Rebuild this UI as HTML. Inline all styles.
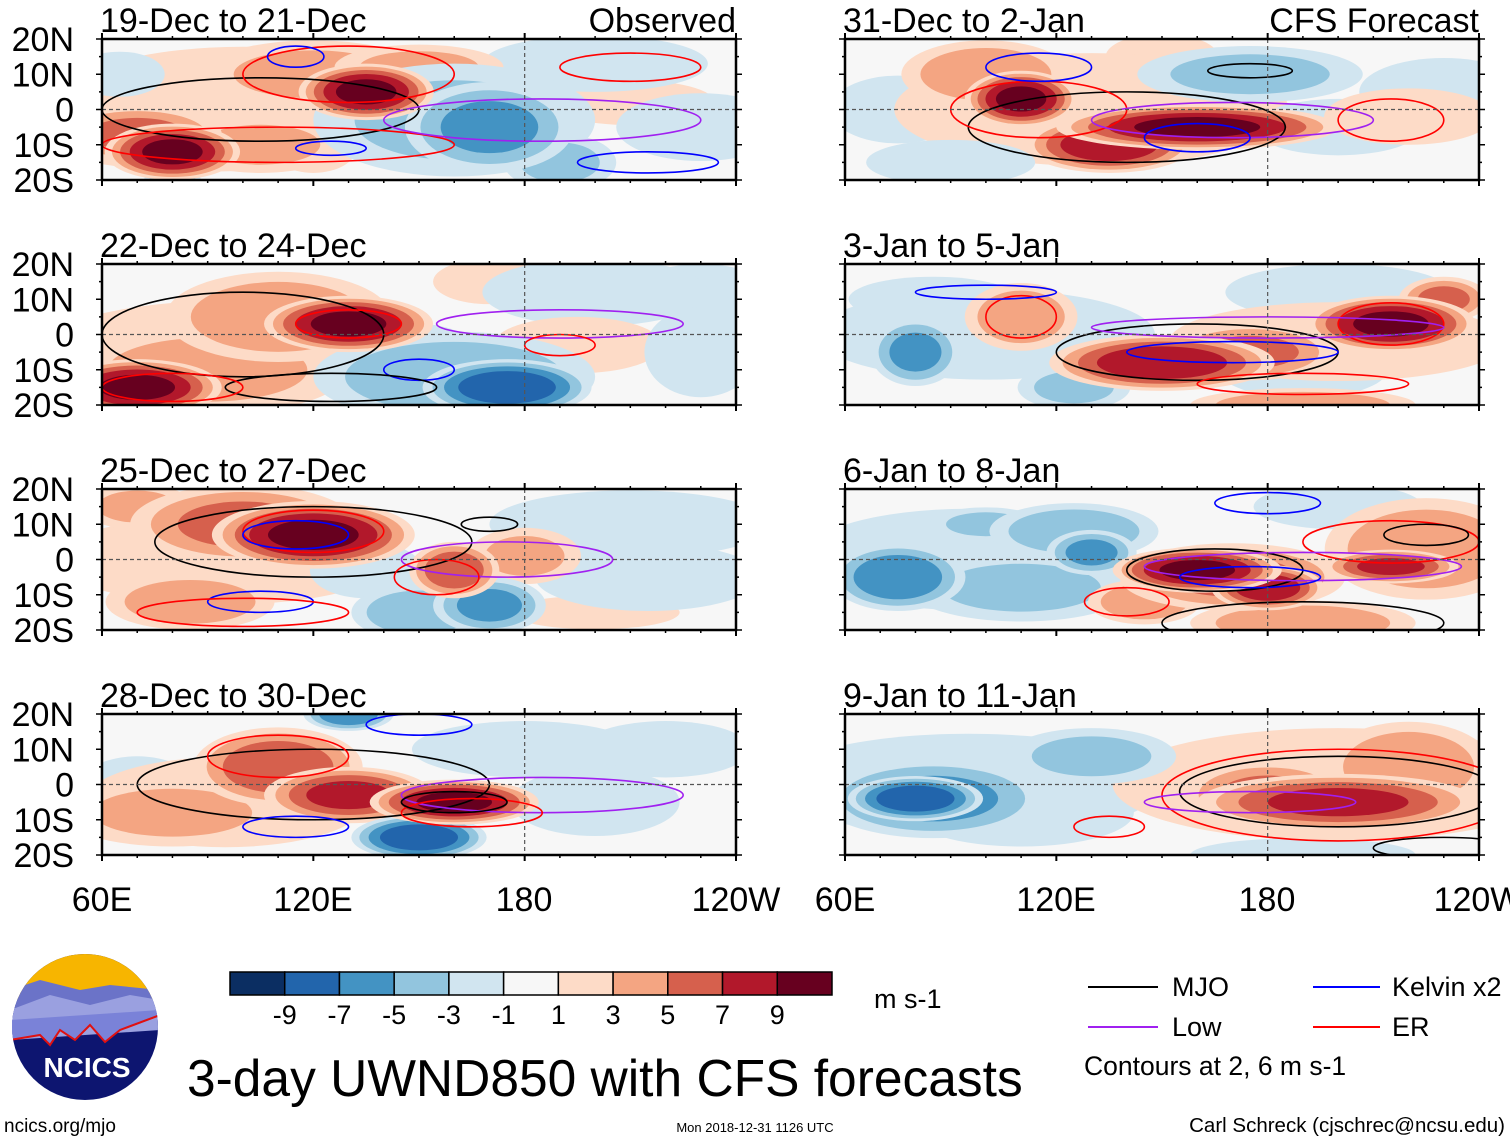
<!DOCTYPE html>
<html><head><meta charset="utf-8">
<style>
html,body{margin:0;padding:0;background:#fff;}
svg{display:block;font-family:"Liberation Sans",sans-serif;}
</style></head>
<body>
<svg id="chart" width="1510" height="1142" viewBox="0 0 1510 1142" xmlns="http://www.w3.org/2000/svg">
<g id="panels"></g>

<g font-size="34" text-anchor="middle">
<text x="102" y="911">60E</text>
<text x="313" y="911">120E</text>
<text x="524" y="911">180</text>
<text x="736" y="911">120W</text>
<text x="845" y="911">60E</text>
<text x="1056" y="911">120E</text>
<text x="1267" y="911">180</text>
<text x="1478" y="911">120W</text>
</g>

<g id="colorbar"></g>
<text x="874" y="1008" font-size="27">m s-1</text>

<g font-size="27">
<line x1="1088" y1="987" x2="1158" y2="987" stroke="#000" stroke-width="2"/>
<text x="1172" y="996">MJO</text>
<line x1="1088" y1="1027" x2="1158" y2="1027" stroke="#a020f0" stroke-width="2"/>
<text x="1172" y="1036">Low</text>
<line x1="1313" y1="987" x2="1380" y2="987" stroke="#0000ff" stroke-width="2"/>
<text x="1392" y="996">Kelvin x2</text>
<line x1="1313" y1="1027" x2="1380" y2="1027" stroke="#ff0000" stroke-width="2"/>
<text x="1392" y="1036">ER</text>
<text x="1084" y="1075" font-size="26.5">Contours at 2, 6 m s-1</text>
</g>

<g>
<clipPath id="logoclip"><circle cx="85" cy="1027" r="73"/></clipPath>
<g clip-path="url(#logoclip)">
<rect x="10" y="950" width="150" height="160" fill="#0d1570"/>
<rect x="10" y="950" width="150" height="50" fill="#f7b500"/>
<path d="M10 990 L40 980 L80 990 L110 985 L160 990 L160 1020 L10 1030Z" fill="#6b73c8"/>
<path d="M10 1010 L50 995 L90 1005 L130 995 L160 1000 L160 1030 L10 1040Z" fill="#9aa0e0"/>
<path d="M10 1040 L40 1035 L50 1045 L60 1030 L75 1040 L90 1025 L105 1042 L120 1030 L160 1015 L160 1010 L10 1020Z" fill="#7a82d8" stroke="none"/>
<path d="M10 1040 L40 1035 L50 1045 L60 1030 L75 1040 L90 1025 L105 1042 L120 1030 L160 1015" fill="none" stroke="#e01010" stroke-width="2"/>
</g>
<text x="87" y="1077" font-size="28" font-weight="bold" fill="#fff" text-anchor="middle">NCICS</text>
</g>

<text x="187" y="1096" font-size="51.5">3-day UWND850 with CFS forecasts</text>
<text x="4" y="1132" font-size="19">ncics.org/mjo</text>
<text x="755" y="1132" font-size="13" text-anchor="middle">Mon 2018-12-31 1126 UTC</text>
<text x="1505" y="1132" font-size="20.5" text-anchor="end">Carl Schreck (cjschrec@ncsu.edu)</text>
</svg>

<script>
// ---- data ----
const panelTitles = ["19-Dec to 21-Dec","22-Dec to 24-Dec","25-Dec to 27-Dec","28-Dec to 30-Dec","31-Dec to 2-Jan","3-Jan to 5-Jan","6-Jan to 8-Jan","9-Jan to 11-Jan"];
const levelBounds = [-9,-7,-5,-3,-1,1,3,5,7,9];
const levelColors = ["#0b2e62","#2265ac","#4393c3","#92c5de","#d1e5f0","#f7f7f7","#fddbc7","#f4a582","#d6604d","#b2182b","#67001f"];
const latTicks = ["20N","10N","0","10S","20S"];
// anomaly blobs: [lon, lat, peak (m/s), lonRadius, latRadius]
const blobsP1 = [[100,5,2,30,8],[90,-8,3,30,6],[70,-7,6,15,5],[80,-12,10,12,5],[105,-10,4,15,5],[120,-10,3,8,5],[120,10,4,20,6],[135,5,10,12,5],[150,12,4,15,4],[160,-3,-4,25,10],[170,-5,-6,15,8],[190,-15,-4,10,5],[200,13,-3,20,5],[230,-5,-3,15,6],[80,-20,-6,5,3],[65,10,-2,8,4],[210,2,2,15,4]];
const blobsP2 = [[100,-3,2,35,8],[90,-10,4,25,8],[70,-15,10,15,5],[110,5,5,20,8],[130,3,10,15,5],[160,-12,-5,25,8],[175,-15,-9,15,5],[150,-5,-4,10,5],[200,12,-3,20,6],[195,-3,3,15,5],[230,-5,-3,10,8],[170,15,2,10,4],[230,12,-2,12,5]];
const blobsP3 = [[95,0,2,30,8],[100,10,6,20,7],[120,7,10,18,6],[160,-3,7,8,5],[180,1,4,10,5],[85,-12,5,15,5],[70,15,4,10,4],[150,-15,-5,12,5],[170,-13,-6,10,5],[135,-3,-3,10,5],[215,-5,-3,20,6],[210,10,-2,25,6],[200,-15,2,15,3]];
const blobsP4 = [[95,-5,3,25,8],[110,5,7,15,7],[130,-3,8,15,5],[160,-5,10,15,4],[80,-8,4,20,6],[150,-15,-9,12,4],[130,20,-7,8,3],[180,10,-3,20,5],[200,-5,-3,15,6],[70,0,-2,10,5],[220,10,-2,15,5]];
const blobsP5 = [[130,0,3,35,10],[100,10,5,15,6],[110,3,10,10,5],[160,-5,10,25,4],[135,-10,9,15,5],[175,10,-4,20,5],[230,5,-3,15,6],[200,-5,-3,15,5],[90,-15,-3,15,4],[220,-2,3,15,5],[150,15,2,10,4],[75,0,-2,12,6]];
const blobsP6 = [[100,0,-2,30,8],[80,-5,-6,8,6],[85,10,-3,15,4],[125,-15,-4,10,4],[190,-10,-3,15,5],[200,12,-3,20,5],[150,-8,9,20,5],[175,-5,6,15,5],[215,3,10,15,5],[230,10,6,8,4],[110,5,5,10,6],[190,-20,5,20,3],[200,-2,3,30,7]];
const blobsP7 = [[95,0,-3,30,9],[75,-5,-7,12,6],[110,-8,-4,20,6],[125,8,-5,15,5],[130,2,-6,8,4],[100,10,-4,10,3],[170,-5,6,20,6],[160,-3,10,15,4],[180,-8,9,10,4],[225,3,5,18,9],[215,-2,8,12,3],[190,-18,5,20,4],[145,-12,5,10,4],[200,15,-2,15,4]];
const blobsP8 = [[95,0,-3,35,9],[85,-4,-6,20,7],[80,-4,-9,12,4],[130,8,-4,15,5],[110,-8,-3,20,6],[190,-20,-2,20,3],[180,-3,6,15,6],[200,-5,8,25,5],[220,5,5,15,8],[160,-5,3,10,4],[200,0,3,40,10]];
const blobSets = [blobsP1,blobsP2,blobsP3,blobsP4,blobsP5,blobsP6,blobsP7,blobsP8];
// contours: [type, lon, lat, lonRadius, latRadius]
const contoursP1 = [["mjo",105,0,45,9],["er",110,-10,50,5],["er",130,10,30,8],["kelvin",115,15,8,3],["kelvin",125,-11,10,2],["low",185,-3,45,6],["er",210,12,20,4],["kelvin",215,-15,20,3]];
const contoursP2 = [["mjo",100,0,40,12],["er",130,3,15,4],["low",190,3,35,4],["er",190,-3,10,3],["kelvin",150,-10,10,3],["mjo",125,-15,30,4],["er",80,-15,20,4]];
const contoursP3 = [["mjo",120,5,45,10],["er",120,8,20,6],["kelvin",115,7,15,4],["low",175,0,30,5],["er",155,-5,12,5],["mjo",170,10,8,2],["kelvin",105,-12,15,3],["er",100,-15,30,4]];
const contoursP4 = [["mjo",120,0,50,10],["er",110,8,20,6],["low",185,-3,40,5],["er",165,-8,20,4],["kelvin",150,17,15,3],["kelvin",115,-12,15,3],["mjo",160,-5,15,3]];
const contoursP5 = [["mjo",140,-5,45,10],["er",115,0,25,8],["kelvin",115,12,15,4],["low",170,-3,40,5],["mjo",175,11,12,2],["er",215,-3,15,6],["kelvin",160,-8,15,4]];
const contoursP6 = [["mjo",160,-5,40,8],["er",215,3,15,6],["low",180,2,50,3],["kelvin",170,-5,30,3],["er",110,5,10,6],["er",190,-14,30,3],["kelvin",100,12,20,2]];
const contoursP7 = [["mjo",165,-3,25,6],["er",215,5,25,6],["low",190,-2,45,4],["kelvin",175,-5,20,3],["mjo",225,7,12,3],["kelvin",180,16,15,3],["er",140,-12,12,4],["mjo",190,-18,40,6]];
const contoursP8 = [["mjo",200,-2,45,10],["er",200,-3,50,13],["low",175,-5,30,3],["er",135,-12,10,3],["mjo",230,-18,20,3]];
const contourSets = [contoursP1,contoursP2,contoursP3,contoursP4,contoursP5,contoursP6,contoursP7,contoursP8];

// ---- layout ----
const NS="http://www.w3.org/2000/svg";
const colX=[102,845], rowY=[39,264,489,714], PW=634, PH=141;
const RSCALE=1.6;
const contourColor={mjo:"#000",low:"#a020f0",kelvin:"#0000ff",er:"#ff0000"};
function mk(tag,attrs,parent){const e=document.createElementNS(NS,tag);for(const k in attrs)e.setAttribute(k,attrs[k]);parent.appendChild(e);return e;}
function levelIndex(v){let i=0;while(i<levelBounds.length&&v>levelBounds[i])i++;return i;}

const panels=document.getElementById('panels');
for(let p=0;p<8;p++){
  const c=p<4?0:1, r=p%4, x0=colX[c], y0=rowY[r];
  const xs=lon=>x0+(lon-60)/180*PW;
  const ys=lat=>y0+(20-lat)/40*PH;
  const g=mk('g',{},panels);
  
  
  const cp=mk('clipPath',{id:'clip'+p},g);
  mk('rect',{x:x0,y:y0,width:PW,height:PH},cp);
  const inner=mk('g',{'clip-path':'url(#clip'+p+')'},g);
  mk('rect',{x:x0,y:y0,width:PW,height:PH,fill:levelColors[5]},inner);
  const blobs=blobSets[p].slice().sort((a,b)=>Math.abs(a[2])-Math.abs(b[2]));
  blobs.forEach(b=>{
    const [lon,lat,pk,rx,ry]=b, mag=Math.abs(pk), sgn=Math.sign(pk);
    const thr=[1,3,5,7,9].filter(t=>t<mag);
    thr.forEach(t=>{
      const s=Math.sqrt(1-(t-1)/mag)*RSCALE;
      const e=mk('ellipse',{cx:xs(lon),cy:ys(lat),rx:rx*s*PW/180,ry:ry*s*PH/40,fill:levelColors[levelIndex(sgn*(t+0.5))]},inner);
      
      
    });
  });
  contourSets[p].forEach(cn=>{
    const [t,lon,lat,rx,ry]=cn;
    const e=mk('ellipse',{cx:xs(lon),cy:ys(lat),rx:rx*PW/180,ry:ry*PH/40,fill:'none',stroke:contourColor[t],'stroke-width':1.6},inner);
    
    
  });
  mk('line',{x1:x0,y1:ys(0),x2:x0+PW,y2:ys(0),stroke:'#555','stroke-width':1.2,'stroke-dasharray':'4,3'},g);
  mk('line',{x1:xs(180),y1:y0,x2:xs(180),y2:y0+PH,stroke:'#555','stroke-width':1.2,'stroke-dasharray':'4,3'},g);
  mk('rect',{x:x0,y:y0,width:PW,height:PH,fill:'none',stroke:'#000','stroke-width':2.5},g);
  for(let lon=60;lon<=240;lon+=10){
    const big=(lon%60===0);
    mk('line',{x1:xs(lon),y1:y0+PH,x2:xs(lon),y2:y0+PH+(big?6:3),stroke:'#000','stroke-width':big?2:1.5},g);
    mk('line',{x1:xs(lon),y1:y0,x2:xs(lon),y2:y0-(big?6:3),stroke:'#000','stroke-width':big?2:1.5},g);
  }
  for(let lat=-20;lat<=20;lat+=5){
    const big=(lat%10===0);
    mk('line',{x1:x0,y1:ys(lat),x2:x0-(big?6:3),y2:ys(lat),stroke:'#000','stroke-width':1.5},g);
    mk('line',{x1:x0+PW,y1:ys(lat),x2:x0+PW+(big?6:3),y2:ys(lat),stroke:'#000','stroke-width':1.5},g);
  }
  const tt=mk('text',{x:x0-2,y:y0-7,'font-size':34},g);tt.textContent=panelTitles[p];
  
  
  if(p===0||p===4){
    const lbl=mk('text',{x:x0+PW,y:y0-7,'font-size':34,'text-anchor':'end'},g);lbl.textContent=p===0?"Observed":"CFS Forecast";
    
    
  }
  if(c===0){
    latTicks.forEach((lt,i)=>{
      const t=mk('text',{x:74,y:ys(20-i*10)+12,'font-size':34,'text-anchor':'end'},g);t.textContent=lt;
      
      
    });
  }
}

// colorbar
const cb=document.getElementById('colorbar');
const cbX=230, cbY=972, cbW=602/11, cbH=23;
levelColors.forEach((col,i)=>{
  const r=mk('rect',{x:cbX+i*cbW,y:cbY,width:cbW,height:cbH,fill:col,stroke:'#000','stroke-width':1.5},cb);
  
  
});
const cbLabels=[-9,-7,-5,-3,-1,1,3,5,7,9];
cbLabels.forEach((v,i)=>{
  const t=mk('text',{x:cbX+(i+1)*cbW,y:1024,'font-size':27,'text-anchor':'middle'},cb);t.textContent=String(v);
  
  
});
</script>
</body></html>
